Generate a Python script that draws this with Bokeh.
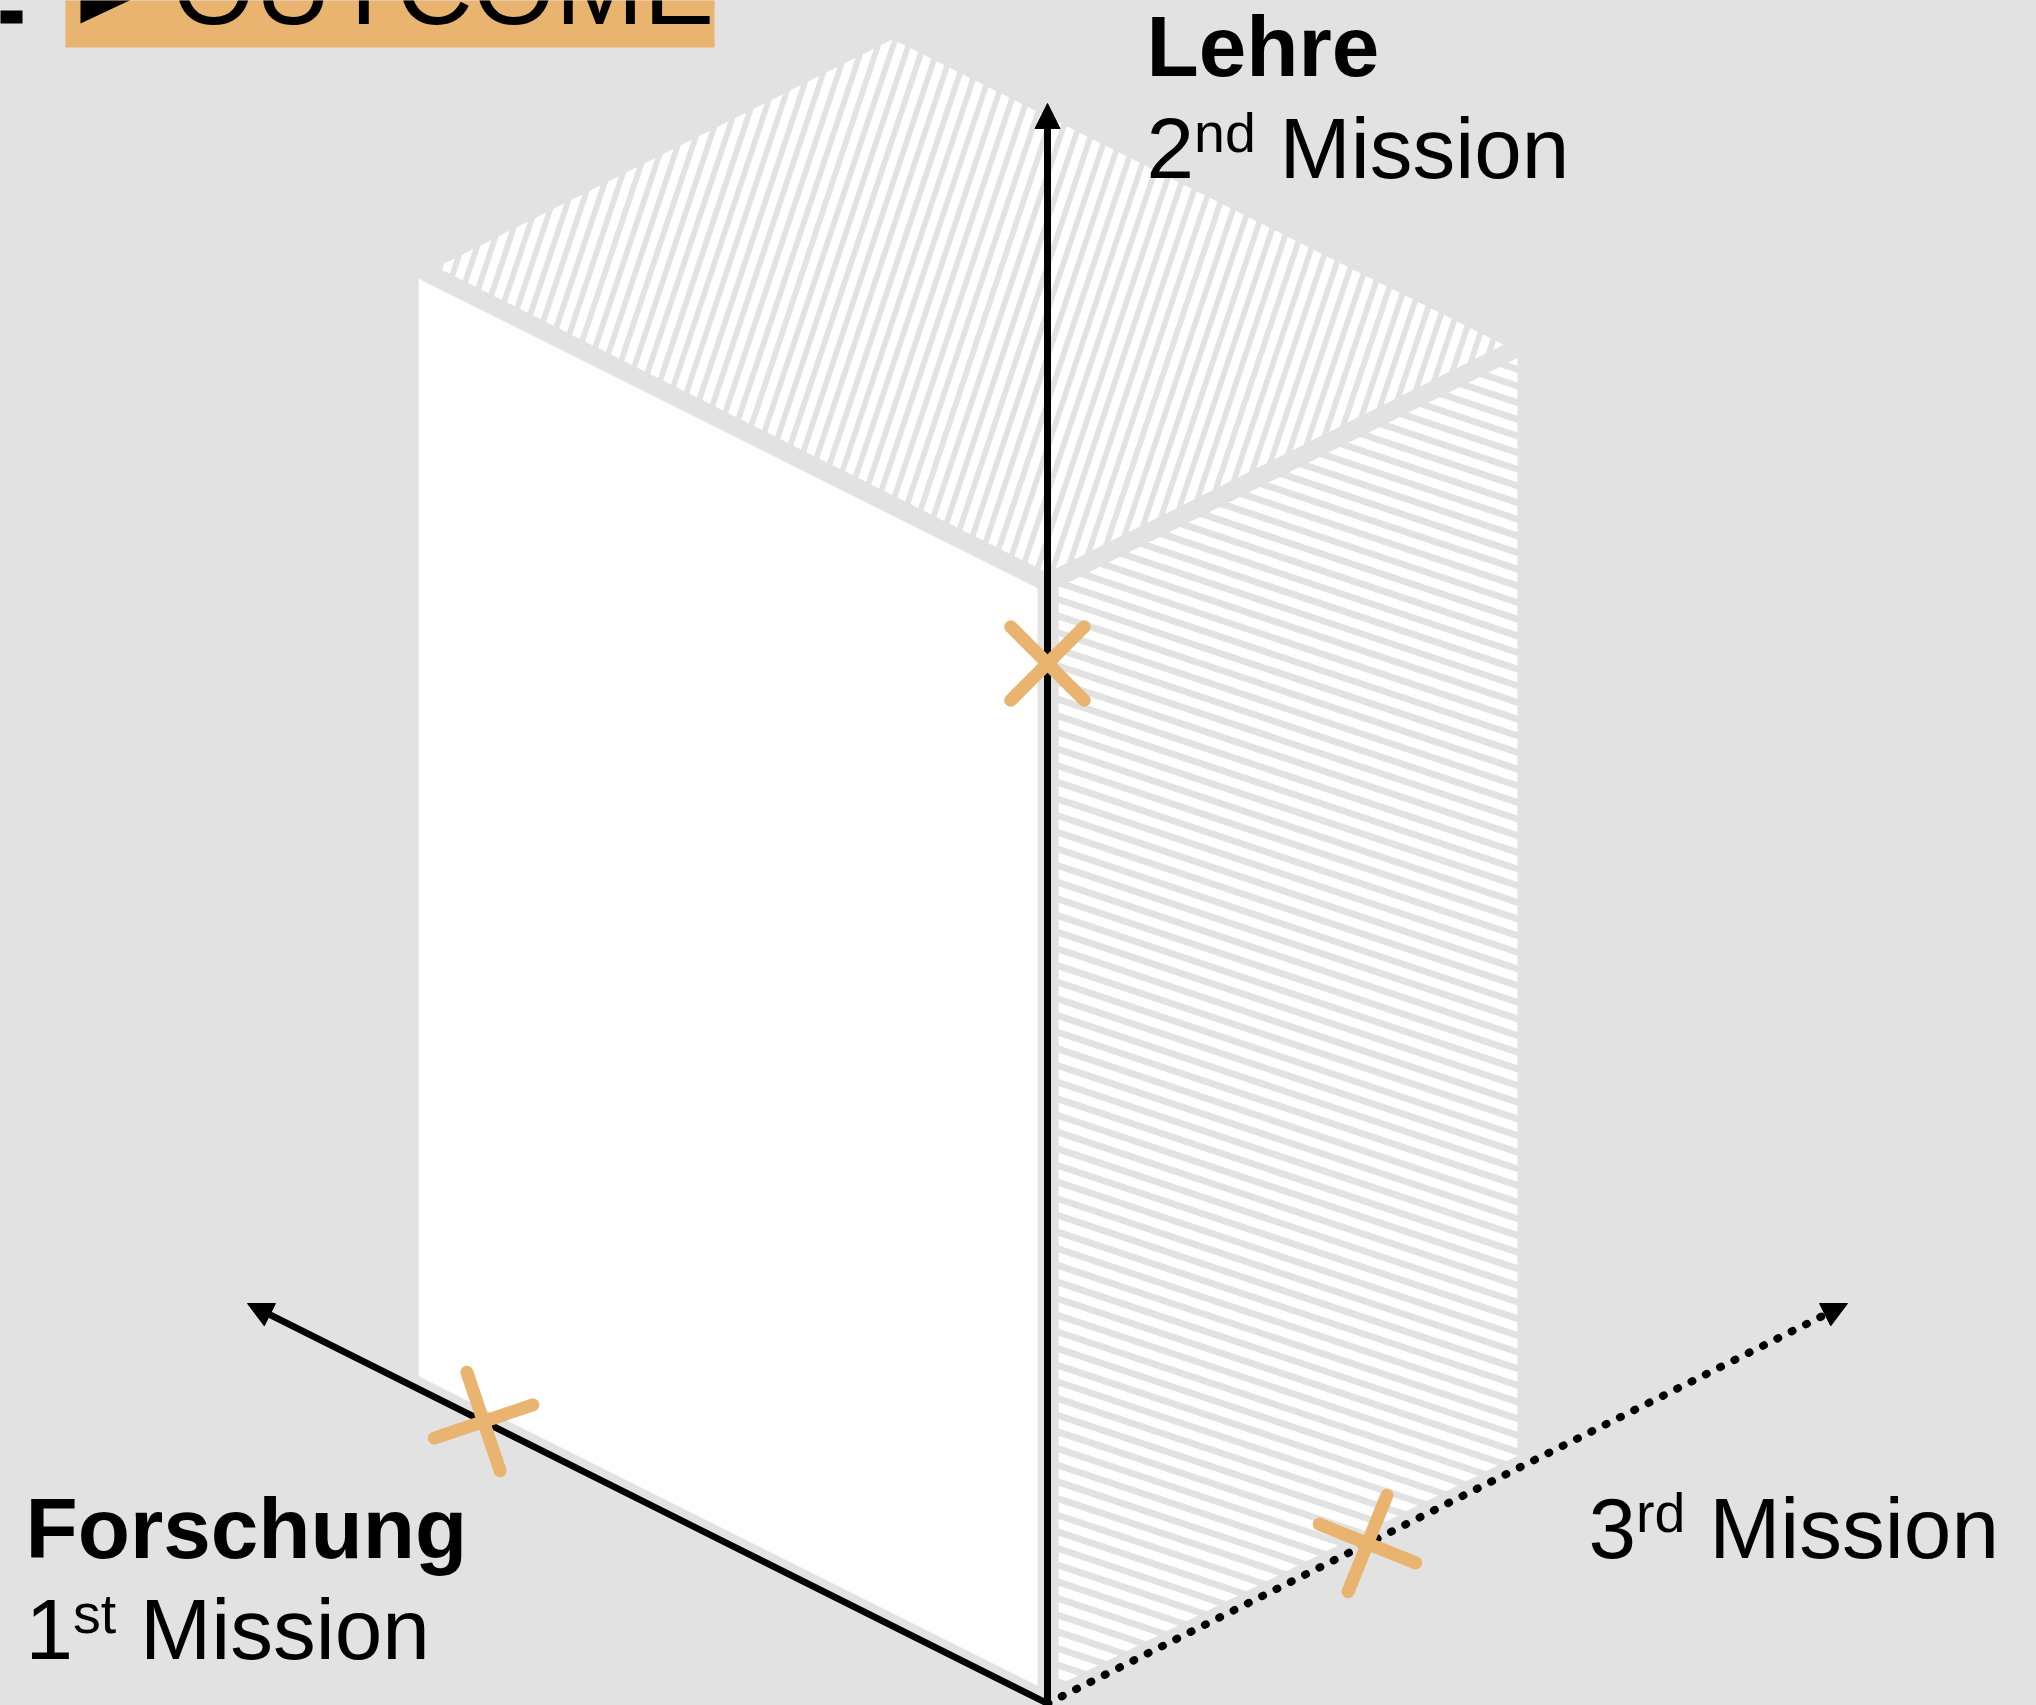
import math
from bokeh.plotting import figure
from bokeh.models import Range1d, Arrow, NormalHead
from bokeh.core.properties import value
from bokeh.embed import file_html
from bokeh.resources import INLINE

# ---------------- data ----------------
axis_titles = ["Forschung", "Lehre", ""]          # bold axis titles
axis_ordinals = ["1", "2", "3"]
axis_suffixes = ["st", "nd", "rd"]
axis_word = "Mission"
axis_scores = [0.705, 0.65, 0.40]                  # X-marker position along each axis (0..1)
axis_lengths = [1.0, 1.0, 1.0]
block_extent = [0.786, 0.694, 0.5875]              # isometric block along (Forschung, Lehre, 3rd Mission)
header_label = "OUTCOME"

# ---------------- style / layout ----------------
BG = "#E2E2E2"
ORANGE = "#E8B470"
FONT = "Liberation Sans"
W, H = 2036, 1705
ORIGIN = (1047.0, 1703.0)
E_F = (-800.0, -400.0)
E_L = (0.0, -1600.0)
E_M = (800.0, -400.0)
BASE_K = 0.345   # baseline correction (fraction of font size)


def proj(f, l, m):
    return (ORIGIN[0] + f * E_F[0] + l * E_L[0] + m * E_M[0],
            ORIGIN[1] + f * E_F[1] + l * E_L[1] + m * E_M[1])


def clip_half(poly, n, c, keep_ge):
    out = []
    k = len(poly)
    for i in range(k):
        P, Q = poly[i], poly[(i + 1) % k]
        dp = n[0] * P[0] + n[1] * P[1] - c
        dq = n[0] * Q[0] + n[1] * Q[1] - c
        if not keep_ge:
            dp, dq = -dp, -dq
        if dp >= 0:
            out.append(P)
        if (dp >= 0) != (dq >= 0):
            t = dp / (dp - dq)
            out.append((P[0] + t * (Q[0] - P[0]), P[1] + t * (Q[1] - P[1])))
    return out


def stripes(poly, direction, period, white_frac, phase=0.0):
    dx, dy = direction
    nn = math.hypot(dx, dy)
    n = (-dy / nn, dx / nn)
    s = [n[0] * x + n[1] * y for x, y in poly]
    lo, hi = min(s), max(s)
    c = phase + math.floor((lo - phase) / period) * period
    xs, ys = [], []
    while c < hi:
        q = clip_half(poly, n, c, True)
        if len(q) >= 3:
            q = clip_half(q, n, c + white_frac * period, False)
        if len(q) >= 3:
            xs.append([pt[0] for pt in q])
            ys.append([pt[1] for pt in q])
        c += period
    return xs, ys


p = figure(width=W, height=H,
           x_range=Range1d(0, W), y_range=Range1d(H, 0),
           output_backend="svg", toolbar_location=None, min_border=0,
           x_axis_location=None, y_axis_location=None)
p.grid.visible = False
p.background_fill_color = BG
p.border_fill_color = BG
p.outline_line_color = None

F, L, M = block_extent
# faces of the block
white_face = [proj(0.0125, 0.008, 0), proj(F, 0.008, 0), proj(F, L, 0), proj(0.0125, L, 0)]
right_face = [proj(0, 0.008, 0.014), proj(0, 0.008, M), proj(0, L, M), proj(0, L, 0.014)]
lt = L + 0.0065
top_face = [proj(0.0125, lt, 0.0125), proj(F - 0.01, lt, 0.0125),
            proj(F - 0.01, lt, M - 0.005), proj(0.0125, lt, M - 0.005)]

p.patch([q[0] for q in white_face], [q[1] for q in white_face],
        fill_color="white", line_color=None)
txs, tys = stripes(top_face, (1, -3), 14.4, 0.6)
p.patches(txs, tys, fill_color="white", line_color=None)
rxs, rys = stripes(right_face, (3, 1), 15.8, 0.57)
p.patches(rxs, rys, fill_color="white", line_color=None)

# axes
tips = [proj(axis_lengths[0], 0, 0), proj(0, axis_lengths[1], 0), proj(0, 0, axis_lengths[2])]
dashes = ["solid", "solid", "1 15"]
widths = [6.5, 7, 8]
for tip, dash, lw in zip(tips, dashes, widths):
    p.add_layout(Arrow(x_start=ORIGIN[0], y_start=ORIGIN[1], x_end=tip[0], y_end=tip[1],
                       line_color="black", line_width=lw, line_dash=dash,
                       line_cap="round" if dash != "solid" else "butt",
                       end=NormalHead(size=25, fill_color="black", line_color="black", line_width=1)))

# X markers
cross_angles = [(18.6, 108.6), (45.0, 135.0), (-21.9, 68.1)]
ARM = 52
cx0, cy0, cx1, cy1 = [], [], [], []
for i, sc in enumerate(axis_scores):
    coords = [0, 0, 0]
    coords[i] = sc
    c = proj(*coords)
    for a in cross_angles[i]:
        r = math.radians(a)
        vx, vy = math.cos(r) * ARM, -math.sin(r) * ARM
        cx0.append(c[0] - vx); cy0.append(c[1] - vy)
        cx1.append(c[0] + vx); cy1.append(c[1] + vy)
cr = p.segment(cx0, cy0, cx1, cy1, line_color=ORANGE, line_width=13, line_cap="round")
cr.level = "overlay"

# labels
MAIN, SUP = 85.5, 55.5
EM = {"1": 0.556, "2": 0.556, "3": 0.556, "s": 0.5, "t": 0.278, "n": 0.556, "d": 0.556, "r": 0.333, " ": 0.278}
anchors = [(25, 1557, 1658), (1146, 75, 177), (1588, None, 1557)]
tx, ty, tt, tsz, tst = [], [], [], [], []


def add_text(x, baseline, s, size, style):
    tx.append(x); ty.append(baseline - BASE_K * size); tt.append(s)
    tsz.append(f"{size}px"); tst.append(style)


for i in range(3):
    x0, yb_title, yb_sub = anchors[i]
    if axis_titles[i]:
        add_text(x0, yb_title, axis_titles[i], MAIN, "bold")
    add_text(x0, yb_sub, axis_ordinals[i], MAIN, "normal")
    xs = x0 + EM[axis_ordinals[i]] * MAIN
    add_text(xs, yb_sub - 25, axis_suffixes[i], SUP, "normal")
    xw = xs + sum(EM[ch] for ch in axis_suffixes[i]) * SUP + EM[" "] * MAIN
    add_text(xw, yb_sub, axis_word, MAIN, "normal")

tr = p.text(x=tx, y=ty, text=tt, text_font=value(FONT), text_font_size=tsz,
            text_font_style=tst, text_color="black", text_baseline="alphabetic", text_align="left")
tr.level = "overlay"

# header fragment (cropped at the top)
HDR = 106
p.quad(left=[65], right=[714], top=[-30], bottom=[47], fill_color=ORANGE, line_color=None)
p.quad(left=[-10], right=[22], top=[10], bottom=[23], fill_color="black", line_color=None)
p.patch([80, 80, 161], [23, -53, -15], fill_color="black", line_color=None)
p.text(x=[172], y=[23 - BASE_K * HDR], text=[header_label], text_font=value(FONT),
       text_font_size=f"{HDR}px", text_color="black", text_baseline="alphabetic", text_align="left")

open("out.html", "w").write(file_html(p, INLINE, "Mission cube",
                                      template="{% block preamble %}<style>html, body { background: #E2E2E2; }</style>{% endblock %}"))
